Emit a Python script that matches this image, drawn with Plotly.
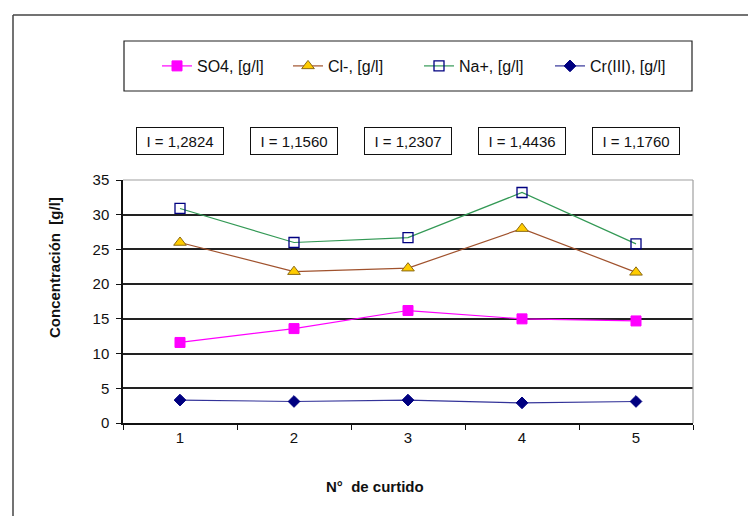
import plotly.graph_objects as go

# ---- data ----
curtidos = ["1", "2", "3", "4", "5"]
so4 = [11.6, 13.6, 16.2, 15.0, 14.7]
cl = [26.0, 21.8, 22.3, 28.0, 21.7]
na = [30.9, 26.0, 26.7, 33.2, 25.8]
cr = [3.3, 3.1, 3.3, 2.9, 3.1]
ionic = ["I = 1,2824", "I = 1,1560", "I = 1,2307", "I = 1,4436", "I = 1,1760"]
y_ticks = [0, 5, 10, 15, 20, 25, 30, 35]

FONT = "Liberation Sans, Arial, sans-serif"

# plot-area geometry in pixels (for paper-coordinate conversions)
W, H = 748, 516
L, R, T, B = 123, 693, 180, 423


def px(xp):
    return (xp - L) / (R - L)


def py(yp):
    return (B - yp) / (B - T)


fig = go.Figure()

fig.add_trace(go.Scatter(
    x=curtidos, y=so4, name="SO4, [g/l]", mode="lines+markers",
    line=dict(color="#FF00FF", width=1.2),
    marker=dict(symbol="square", size=10, color="#FF00FF",
                line=dict(color="#FF00FF", width=1))))
fig.add_trace(go.Scatter(
    x=curtidos, y=cl, name="Cl-, [g/l]", mode="lines+markers",
    line=dict(color="#A0522D", width=1.2),
    marker=dict(symbol="triangle-up", size=11, color="#FFCC00",
                line=dict(color="#8B6914", width=1))))
fig.add_trace(go.Scatter(
    x=curtidos, y=na, name="Na+, [g/l]", mode="lines+markers",
    line=dict(color="#339955", width=1.2),
    marker=dict(symbol="square-open", size=10, color="#000080",
                line=dict(color="#000080", width=1.3))))
fig.add_trace(go.Scatter(
    x=curtidos, y=cr, name="Cr(III), [g/l]", mode="lines+markers",
    line=dict(color="#333399", width=1.2),
    marker=dict(symbol="diamond", size=9, color="#000080",
                line=dict(color="#000080", width=1))))

annotations = []
for i, t in enumerate(ionic):
    annotations.append(dict(
        x=i, xref="x", y=py(140.5), yref="paper", text=t, showarrow=False,
        font=dict(family=FONT, size=15, color="#111"),
        bordercolor="#111", borderwidth=1, borderpad=4,
        width=78, height=18, align="center", xanchor="center", yanchor="middle"))

annotations.append(dict(
    x=px(54), xref="paper", y=py(268), yref="paper",
    text="<b>Concentración\u00a0 [g/l]</b>", textangle=-90, showarrow=False,
    font=dict(family=FONT, size=15, color="#111"),
    xanchor="center", yanchor="middle"))
annotations.append(dict(
    x=px(375), xref="paper", y=py(486), yref="paper",
    text="<b>N°\u00a0 de curtido</b>", showarrow=False,
    font=dict(family=FONT, size=15, color="#111"),
    xanchor="center", yanchor="middle"))

shapes = [
    # outer chart frame (left and top edges visible)
    dict(type="line", xref="paper", yref="paper", x0=px(13), x1=px(13),
         y0=py(560), y1=py(15), line=dict(color="#444", width=1.5)),
    dict(type="line", xref="paper", yref="paper", x0=px(13), x1=px(800),
         y0=py(15), y1=py(15), line=dict(color="#444", width=1.5)),
    # legend frame
    dict(type="rect", xref="paper", yref="paper", x0=px(124), x1=px(692),
         y0=py(91), y1=py(41), line=dict(color="#222", width=1.2)),
    # gray plot-area border top/right
    dict(type="line", xref="paper", yref="paper", x0=0, x1=1, y0=1, y1=1,
         line=dict(color="#A0A0A0", width=1.2)),
    dict(type="line", xref="paper", yref="paper", x0=1, x1=1, y0=0, y1=1,
         line=dict(color="#A0A0A0", width=1.2)),
]

fig.update_layout(
    width=W, height=H,
    margin=dict(l=L, r=W - R, t=T, b=H - B, pad=0),
    paper_bgcolor="white", plot_bgcolor="white",
    font=dict(family=FONT, size=15, color="#111"),
    showlegend=True,
    legend=dict(orientation="h", x=px(157), xanchor="left",
                y=py(66), yanchor="middle",
                bgcolor="rgba(0,0,0,0)", borderwidth=0,
                entrywidth=86, entrywidthmode="pixels",
                font=dict(family=FONT, size=16, color="#111")),
    annotations=annotations,
    shapes=shapes,
)

fig.update_xaxes(
    type="category", range=[-0.5, 4.5], tickson="boundaries",
    ticks="outside", ticklen=5, tickcolor="#111", tickwidth=1,
    showline=True, linecolor="#111", linewidth=1.5,
    showgrid=False, zeroline=False,
    tickfont=dict(family=FONT, size=15, color="#111"),
    fixedrange=True)
fig.update_yaxes(
    range=[0, 35], tickvals=y_ticks,
    ticks="outside", ticklen=5, tickcolor="#111", tickwidth=1,
    showline=True, linecolor="#111", linewidth=1.5,
    showgrid=True, gridcolor="#222", gridwidth=1.5, zeroline=False,
    tickfont=dict(family=FONT, size=15, color="#111"),
    ticklabelstandoff=4,
    fixedrange=True)

fig.write_html("out.html")
